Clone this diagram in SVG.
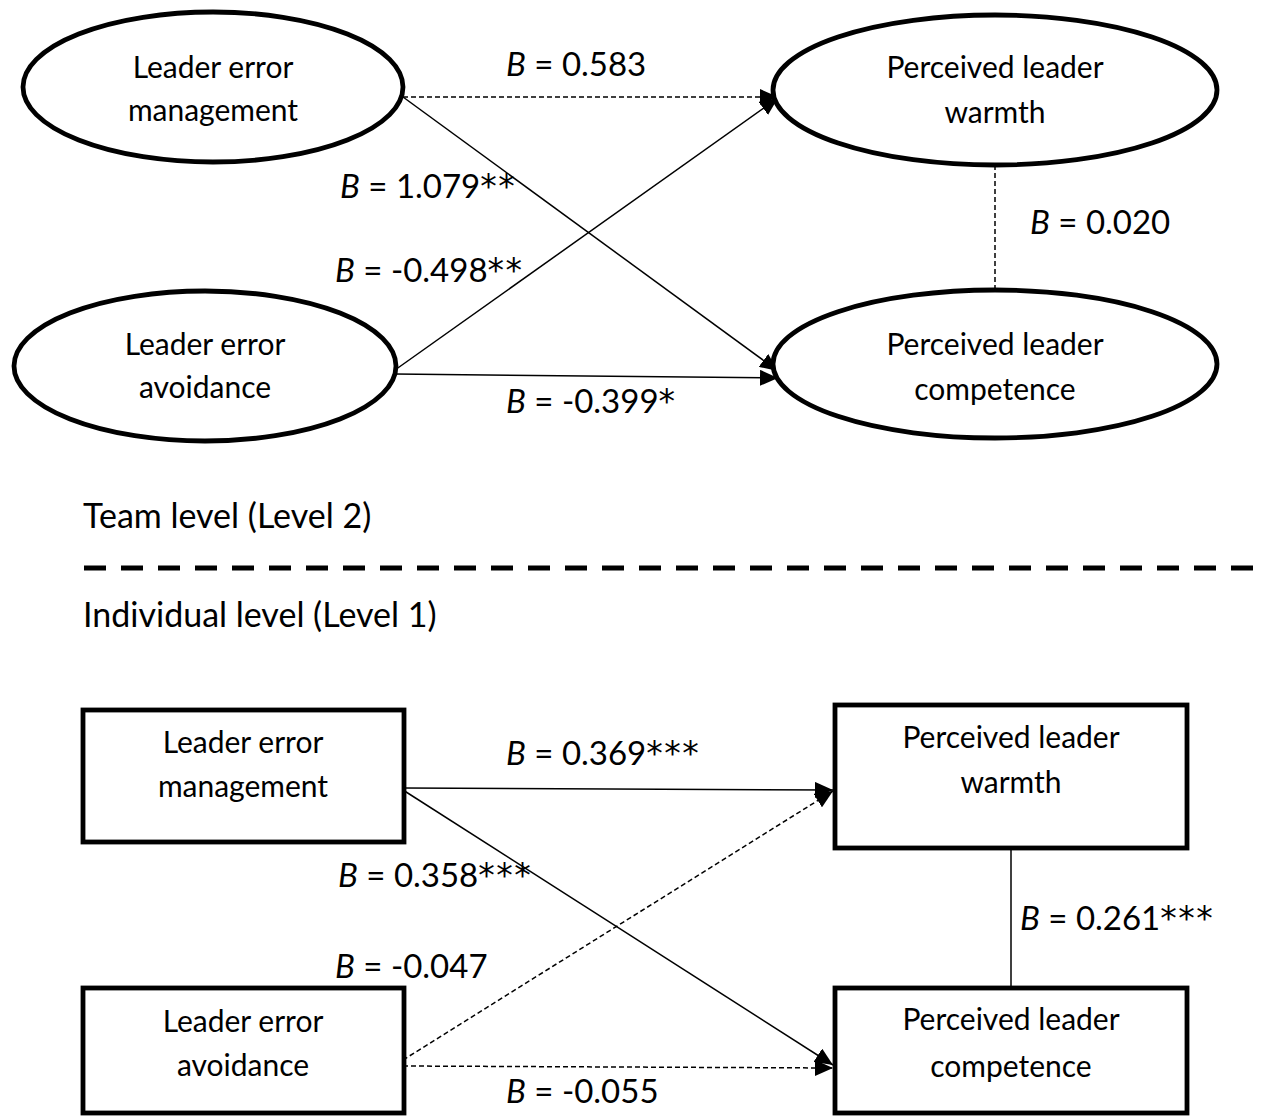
<svg xmlns="http://www.w3.org/2000/svg" width="1263" height="1120" viewBox="0 0 1263 1120">
<style>
.node{fill:#fff;stroke:#000;stroke-width:4.8}
.nt{font-family:Lato,"Liberation Sans",sans-serif;font-size:30px;fill:#000;text-anchor:middle}
.lbl{font-family:Lato,"Liberation Sans",sans-serif;font-size:33px;fill:#000}
.hdr{font-family:Lato,"Liberation Sans",sans-serif;font-size:34px;fill:#000}
.st{font-family:"DejaVu Sans",sans-serif;font-size:33px;letter-spacing:1.5px}
.ln{stroke:#000;stroke-width:1.5;fill:none}
.ds{stroke-dasharray:5 3}
</style>
<defs>
<marker id="ah" markerUnits="userSpaceOnUse" markerWidth="19" markerHeight="16" refX="18" refY="8" orient="auto">
<path d="M0,0 L18,8 L0,16 z" fill="#000"/>
</marker>
</defs>
<rect width="1263" height="1120" fill="#fff"/>
<g id="connectors">
<line class="ln ds" x1="403" y1="97" x2="778" y2="97" marker-end="url(#ah)"/>
<line class="ln" x1="403" y1="97" x2="778" y2="371" marker-end="url(#ah)"/>
<line class="ln" x1="395" y1="370" x2="778" y2="98" marker-end="url(#ah)"/>
<line class="ln" x1="395" y1="374" x2="778" y2="378" marker-end="url(#ah)"/>
<line class="ln ds" x1="995" y1="165" x2="995" y2="290"/>
<line class="ln" x1="403" y1="788" x2="833" y2="790" marker-end="url(#ah)"/>
<line class="ln" x1="403" y1="790" x2="833" y2="1065" marker-end="url(#ah)"/>
<line class="ln ds" x1="403" y1="1060" x2="833" y2="791" marker-end="url(#ah)"/>
<line class="ln ds" x1="403" y1="1066" x2="833" y2="1068" marker-end="url(#ah)"/>
<line class="ln" x1="1011" y1="848" x2="1011" y2="988"/>
<text class="lbl" x="506" y="76"><tspan font-style="italic">B</tspan> = 0.583</text>
<text class="lbl" x="340" y="198"><tspan font-style="italic">B</tspan> = 1.079<tspan class="st">**</tspan></text>
<text class="lbl" x="335" y="282"><tspan font-style="italic">B</tspan> = -0.498<tspan class="st">**</tspan></text>
<text class="lbl" x="506" y="413"><tspan font-style="italic">B</tspan> = -0.399<tspan class="st">*</tspan></text>
<text class="lbl" x="1030" y="234"><tspan font-style="italic">B</tspan> = 0.020</text>
<text class="lbl" x="506" y="765"><tspan font-style="italic">B</tspan> = 0.369<tspan class="st">***</tspan></text>
<text class="lbl" x="338" y="887"><tspan font-style="italic">B</tspan> = 0.358<tspan class="st">***</tspan></text>
<text class="lbl" x="335" y="978"><tspan font-style="italic">B</tspan> = -0.047</text>
<text class="lbl" x="506" y="1103"><tspan font-style="italic">B</tspan> = -0.055</text>
<text class="lbl" x="1020" y="930"><tspan font-style="italic">B</tspan> = 0.261<tspan class="st">***</tspan></text>
</g>
<g id="team-lem">
<ellipse class="node" cx="213" cy="87" rx="190" ry="75"/>
<text class="nt" x="213" y="78">Leader error</text>
<text class="nt" x="213" y="121">management</text>
</g>
<g id="team-lea">
<ellipse class="node" cx="205" cy="366" rx="191" ry="75"/>
<text class="nt" x="205" y="355">Leader error</text>
<text class="nt" x="205" y="398">avoidance</text>
</g>
<g id="team-warmth">
<ellipse class="node" cx="995" cy="90" rx="222" ry="75"/>
<text class="nt" x="995" y="78">Perceived leader</text>
<text class="nt" x="995" y="123">warmth</text>
</g>
<g id="team-competence">
<ellipse class="node" cx="995" cy="364" rx="222" ry="74"/>
<text class="nt" x="995" y="355">Perceived leader</text>
<text class="nt" x="995" y="400">competence</text>
</g>
<g id="level-divider">
<text class="hdr" x="83" y="528">Team level (Level 2)</text>
<line x1="84" y1="568" x2="1263" y2="568" stroke="#000" stroke-width="5" stroke-dasharray="22 15"/>
<text class="hdr" x="83" y="627">Individual level (Level 1)</text>
</g>
<g id="ind-lem">
<rect class="node" x="83" y="710" width="321" height="132"/>
<text class="nt" x="243" y="753">Leader error</text>
<text class="nt" x="243" y="797">management</text>
</g>
<g id="ind-lea">
<rect class="node" x="83" y="988" width="321" height="125"/>
<text class="nt" x="243" y="1032">Leader error</text>
<text class="nt" x="243" y="1076">avoidance</text>
</g>
<g id="ind-warmth">
<rect class="node" x="835" y="705" width="352" height="143"/>
<text class="nt" x="1011" y="748">Perceived leader</text>
<text class="nt" x="1011" y="793">warmth</text>
</g>
<g id="ind-competence">
<rect class="node" x="835" y="988" width="352" height="125"/>
<text class="nt" x="1011" y="1030">Perceived leader</text>
<text class="nt" x="1011" y="1077">competence</text>
</g>
</svg>
